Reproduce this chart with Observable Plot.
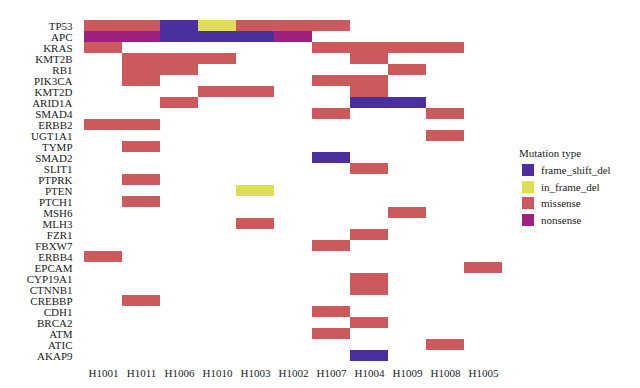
<!DOCTYPE html>
<html>
<head>
<meta charset="utf-8">
<script src="https://cdn.jsdelivr.net/npm/d3@7"></script>
<script src="https://cdn.jsdelivr.net/npm/@observablehq/plot@0.6"></script>
<style>
  body { margin: 0; background: #fff; }
  #wrap { position: relative; width: 640px; height: 388px; font-family: "Liberation Serif", "Times New Roman", serif; }
  #legend { position: absolute; left: 519px; top: 147px; font-size: 11px; color: #222; }
  #legend .title { margin-bottom: 3px; }
  #legend .row { display: flex; align-items: center; height: 16.5px; margin-left: 3px; }
  #legend .sw { width: 12px; height: 12px; margin-right: 7px; }
</style>
</head>
<body>
<div id="wrap"></div>
<script>
const samples = ["H1001","H1011","H1006","H1010","H1003","H1002","H1007","H1004","H1009","H1008","H1005"];
const genes = ["TP53","APC","KRAS","KMT2B","RB1","PIK3CA","KMT2D","ARID1A","SMAD4","ERBB2","UGT1A1","TYMP","SMAD2","SLIT1","PTPRK","PTEN","PTCH1","MSH6","MLH3","FZR1","FBXW7","ERBB4","EPCAM","CYP19A1","CTNNB1","CREBBP","CDH1","BRCA2","ATM","ATIC","AKAP9"];
const mutationTypes = ["frame_shift_del","in_frame_del","missense","nonsense"];
const typeColors = ["#4b2f9e","#dede55","#cc5a5c","#a0207f"];

// one entry per mutated cell
const mutGene = [
  "TP53","TP53","TP53","TP53","TP53","TP53","TP53",
  "APC","APC","APC","APC","APC","APC",
  "KRAS","KRAS","KRAS","KRAS","KRAS",
  "KMT2B","KMT2B","KMT2B","KMT2B",
  "RB1","RB1","RB1",
  "PIK3CA","PIK3CA","PIK3CA",
  "KMT2D","KMT2D","KMT2D",
  "ARID1A","ARID1A","ARID1A",
  "SMAD4","SMAD4",
  "ERBB2","ERBB2",
  "UGT1A1","TYMP","SMAD2","SLIT1","PTPRK","PTEN","PTCH1","MSH6","MLH3","FZR1","FBXW7","ERBB4","EPCAM","CYP19A1","CTNNB1","CREBBP","CDH1","BRCA2","ATM","ATIC","AKAP9"
];
const mutSample = [
  "H1001","H1011","H1006","H1010","H1003","H1002","H1007",
  "H1001","H1011","H1006","H1010","H1003","H1002",
  "H1001","H1007","H1004","H1009","H1008",
  "H1011","H1006","H1010","H1004",
  "H1011","H1006","H1009",
  "H1011","H1007","H1004",
  "H1010","H1003","H1004",
  "H1006","H1004","H1009",
  "H1007","H1008",
  "H1001","H1011",
  "H1008","H1011","H1007","H1004","H1011","H1003","H1011","H1009","H1003","H1004","H1007","H1001","H1005","H1004","H1004","H1011","H1007","H1004","H1007","H1008","H1004"
];
const mutType = [
  "missense","missense","frame_shift_del","in_frame_del","missense","missense","missense",
  "nonsense","nonsense","frame_shift_del","frame_shift_del","frame_shift_del","nonsense",
  "missense","missense","missense","missense","missense",
  "missense","missense","missense","missense",
  "missense","missense","missense",
  "missense","missense","missense",
  "missense","missense","missense",
  "missense","frame_shift_del","frame_shift_del",
  "missense","missense",
  "missense","missense",
  "missense","missense","frame_shift_del","missense","missense","in_frame_del","missense","missense","missense","missense","missense","missense","missense","missense","missense","missense","missense","missense","missense","missense","frame_shift_del"
];

const table = mutGene.map((g, i) => ({gene: g, sample: mutSample[i], type: mutType[i]}));

const chart = Plot.plot({
  width: 640,
  height: 388,
  marginLeft: 81,
  marginRight: 136,
  marginTop: 20,
  marginBottom: 27,
  style: {fontFamily: "'Liberation Serif', 'Times New Roman', serif", fontSize: "11px", color: "#222", background: "#fff"},
  x: {domain: samples, padding: 0, label: null, tickSize: 0, tickPadding: 8},
  y: {domain: genes, padding: 0, label: null, tickSize: 0, tickPadding: 9},
  color: {domain: mutationTypes, range: typeColors},
  marks: [
    Plot.cell(table, {x: "sample", y: "gene", fill: "type", inset: 0})
  ]
});
const wrap = document.getElementById("wrap");
wrap.appendChild(chart);

const legend = document.createElement("div");
legend.id = "legend";
let html = '<div class="title">Mutation type</div>';
mutationTypes.forEach((t, i) => {
  html += `<div class="row"><div class="sw" style="background:${typeColors[i]}"></div><span>${t}</span></div>`;
});
legend.innerHTML = html;
wrap.appendChild(legend);
</script>
</body>
</html>
